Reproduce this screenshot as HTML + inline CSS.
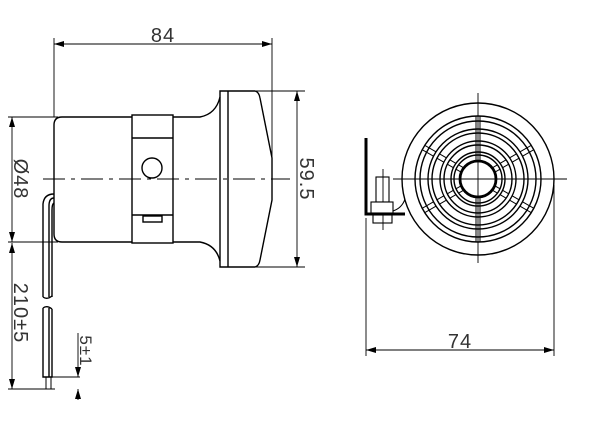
<!DOCTYPE html>
<html><head><style>html,body{margin:0;padding:0;background:#fff}svg{display:block}</style></head><body>
<svg width="600" height="443" viewBox="0 0 600 443" xmlns="http://www.w3.org/2000/svg" style="font-family:'Liberation Sans',sans-serif">
<defs>
<marker id="a" markerWidth="10" markerHeight="6" refX="10" refY="3" orient="auto-start-reverse" markerUnits="userSpaceOnUse"><path d="M0,0 L10,3 L0,6 z" fill="#000"/></marker>
</defs>
<g stroke="#000" fill="none" stroke-width="0.9">
<line x1="54" y1="38" x2="54" y2="117"/>
<line x1="272" y1="38" x2="272" y2="160"/>
<line x1="54" y1="44" x2="272" y2="44" marker-start="url(#a)" marker-end="url(#a)"/>
<line x1="250" y1="91" x2="305" y2="91"/>
<line x1="250" y1="267" x2="305" y2="267"/>
<line x1="297" y1="91" x2="297" y2="267" marker-start="url(#a)" marker-end="url(#a)"/>
<line x1="8" y1="117" x2="58" y2="117"/>
<line x1="8" y1="242" x2="58" y2="242"/>
<line x1="12" y1="117" x2="12" y2="242" marker-start="url(#a)" marker-end="url(#a)"/>
<line x1="8" y1="389" x2="55" y2="389"/>
<line x1="12" y1="243" x2="12" y2="389" marker-start="url(#a)" marker-end="url(#a)"/>
<line x1="52" y1="377" x2="80" y2="377"/>
<line x1="78" y1="333" x2="78" y2="377" marker-end="url(#a)"/>
<line x1="78" y1="400" x2="78" y2="389" marker-end="url(#a)"/>
<line x1="43" y1="179" x2="290" y2="179" stroke-dasharray="22,6,4,6"/>
<line x1="366" y1="218" x2="366" y2="356"/>
<line x1="554" y1="185" x2="554" y2="356"/>
<line x1="366" y1="350" x2="554" y2="350" marker-start="url(#a)" marker-end="url(#a)"/>
<line x1="478" y1="93" x2="478" y2="263"/>
<line x1="393" y1="179" x2="567" y2="179"/>
<line x1="383" y1="169" x2="383" y2="230"/>
</g>
<g stroke="#000" fill="none" stroke-width="1.4">
<path d="M132,117 L62,117 Q54,117 54,125 L54,234 Q54,242 62,242 L132,242"/>
<path d="M173,117 L200,117 Q216,114 220,97 M173,242 L200,242 Q216,245 220,261"/>
<rect x="132" y="115" width="41" height="128"/>
<line x1="132" y1="138" x2="173" y2="138"/>
<line x1="132" y1="215" x2="173" y2="215"/>
<circle cx="152" cy="168" r="10"/>
<rect x="143" y="216" width="19" height="6"/>
<path d="M220,91 L255,91 Q259,92 260,98 L272,158 L272,200 L260,260 Q259,266 255,267 L220,267 Z"/>
<line x1="228" y1="91" x2="228" y2="267"/>
<path d="M54,194 Q44,194 43,204 L43,297 M54,198 Q49,198 49,206 L49,297 M54,203 Q52,204 52,210 L52,297"/>
<path d="M43,297 Q47,300 52,296"/>
<path d="M43,308 Q47,305 52,309 M43,308 L43,377 L52,377 L52,309 M49,308 L49,377"/>
<line x1="46" y1="377" x2="46" y2="389" stroke-width="1"/>
<line x1="51" y1="377" x2="51" y2="389" stroke-width="1"/>
<circle cx="478" cy="179" r="76"/>
<circle cx="478" cy="179" r="63"/>
<circle cx="478" cy="179" r="58"/>
<circle cx="478" cy="179" r="50"/>
<circle cx="478" cy="179" r="46"/>
<circle cx="478" cy="179" r="38"/>
<circle cx="478" cy="179" r="34"/>
<circle cx="478" cy="179" r="27"/>
<circle cx="478" cy="179" r="24"/>
<circle cx="478" cy="179" r="18" stroke-width="2.8"/>
</g>
<g stroke="#000" stroke-width="1">
<line x1="476" y1="116" x2="476" y2="161"/><line x1="480" y1="116" x2="480" y2="161"/>
<line x1="476" y1="197" x2="476" y2="242"/><line x1="480" y1="197" x2="480" y2="242"/>
<g transform="translate(478 179)">
<g id="rib"><path d="M18,-2.5 L24,-2.5 M18,2.5 L24,2.5 M27,-2.5 L34,-2.5 M27,2.5 L34,2.5 M38,-2.5 L46,-2.5 M38,2.5 L46,2.5 M50,-2.5 L58,-2.5 M50,2.5 L58,2.5 M58,-2.5 L63,-2.5 M58,2.5 L63,2.5" transform="rotate(-30)"/></g>
<use href="#rib" transform="scale(1,-1)"/>
<use href="#rib" transform="scale(-1,1)"/>
<use href="#rib" transform="scale(-1,-1)"/>
</g>
</g>
<g stroke="#000" fill="none">
<path d="M366,138 L366,214 L405,214" stroke-width="3"/>
<rect x="376" y="177" width="13" height="25" stroke-width="1.1"/>
<rect x="371" y="202" width="22" height="11" fill="#fff" stroke-width="1.1"/>
<rect x="373" y="215" width="19" height="8" stroke-width="1.1"/>
<path d="M393,211 Q402,208 405,199" stroke-width="1.1"/>
</g>
<g fill="#333" font-size="20" letter-spacing="1" style="font-family:'Liberation Sans',sans-serif">
<text x="163" y="42" text-anchor="middle">84</text>
<text x="460" y="348" text-anchor="middle">74</text>
<text transform="translate(300 179) rotate(90)" text-anchor="middle">59.5</text>
<text transform="translate(14 179) rotate(90)" text-anchor="middle">Ø48</text>
<text transform="translate(14 313) rotate(90)" text-anchor="middle">210±5</text>
<text transform="translate(80 351) rotate(90)" text-anchor="middle" font-size="17">5±1</text>
</g>
</svg>
</body></html>
